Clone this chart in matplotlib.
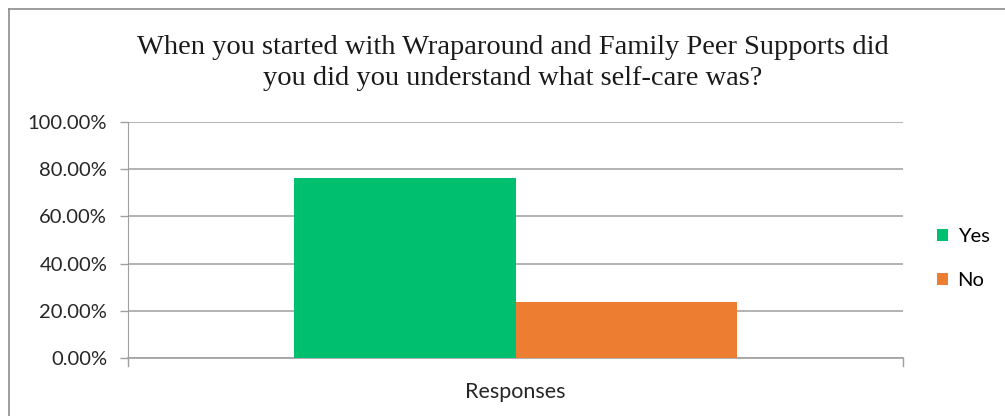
import matplotlib.pyplot as plt
from matplotlib.lines import Line2D
import numpy as np

# survey answers
categories = ['Responses']
series_names = ['Yes', 'No']
series_values = [76.47, 23.53]
series_colors = ['#00BF6F', '#ED7D31']
yticks = [0, 20, 40, 60, 80, 100]
ytick_labels = ['0.00%', '20.00%', '40.00%', '60.00%', '80.00%', '100.00%']
title = ('When you started with Wraparound and Family Peer Supports did\n'
         'you did you understand what self-care was?')

W, H = 1005, 416
fig = plt.figure(figsize=(W / 100, H / 100), dpi=100)

# chart frame (top and left edges; the rest runs off the page)
fx, fy = 8.5 / W, 1 - 8.5 / H
fig.lines.append(Line2D([fx, 1.0], [fy, fy], transform=fig.transFigure,
                        color='#8c8c8c', linewidth=1.2))
fig.lines.append(Line2D([fx, fx], [0.0, fy], transform=fig.transFigure,
                        color='#8c8c8c', linewidth=1.2))

ax = fig.add_axes([128 / W, 1 - 358 / H, (903 - 128) / W, (358 - 122) / H])

gap = 0.75
bar_w = 1 / (1 + gap) / len(series_values)
x = np.arange(len(categories))
for i, (name, v, c) in enumerate(zip(series_names, series_values, series_colors)):
    ax.bar(x + (i - 0.5) * bar_w, [v], width=bar_w, color=c, label=name, zorder=3)

lab = dict(fontsize=14.5, family='Lato', color='#262626')
ax.set_xlim(-0.5, 0.5)
ax.set_ylim(0, 100)
ax.set_yticks(yticks)
ax.set_yticklabels(ytick_labels, **lab)
ax.set_xticks(x)
ax.set_xticklabels(categories, fontsize=15.5, family='Lato', color='#262626')
ax.tick_params(axis='x', length=0, pad=17)
ax.tick_params(axis='y', length=6, width=1, color='#a0a0a0', pad=9)
ax.grid(axis='y', color='#a6a6a6', linewidth=1.2, zorder=0)
for s in ['top', 'right']:
    ax.spines[s].set_visible(False)
ax.spines['left'].set_color('#a0a0a0')
ax.spines['bottom'].set_color('#a0a0a0')
ax.spines['bottom'].set_linewidth(1.2)
# small outward ticks on the category axis ends
for xe in [-0.5, 0.5]:
    ax.plot([xe, xe], [0, -3.4], color='#a0a0a0', linewidth=1, clip_on=False)

fig.text(513 / W, 1 - 63 / H, title, ha='center', va='center',
         family='Liberation Serif', fontsize=20.5, color='#1a1a1a',
         linespacing=1.3)

ax.legend(loc='center left', bbox_to_anchor=(1.021, 0.422), frameon=False,
          prop={'family': 'Lato', 'size': 14.5}, handlelength=0.55,
          handleheight=0.55, handletextpad=0.45, labelspacing=1.35)

fig.savefig('out.png', dpi=100)
